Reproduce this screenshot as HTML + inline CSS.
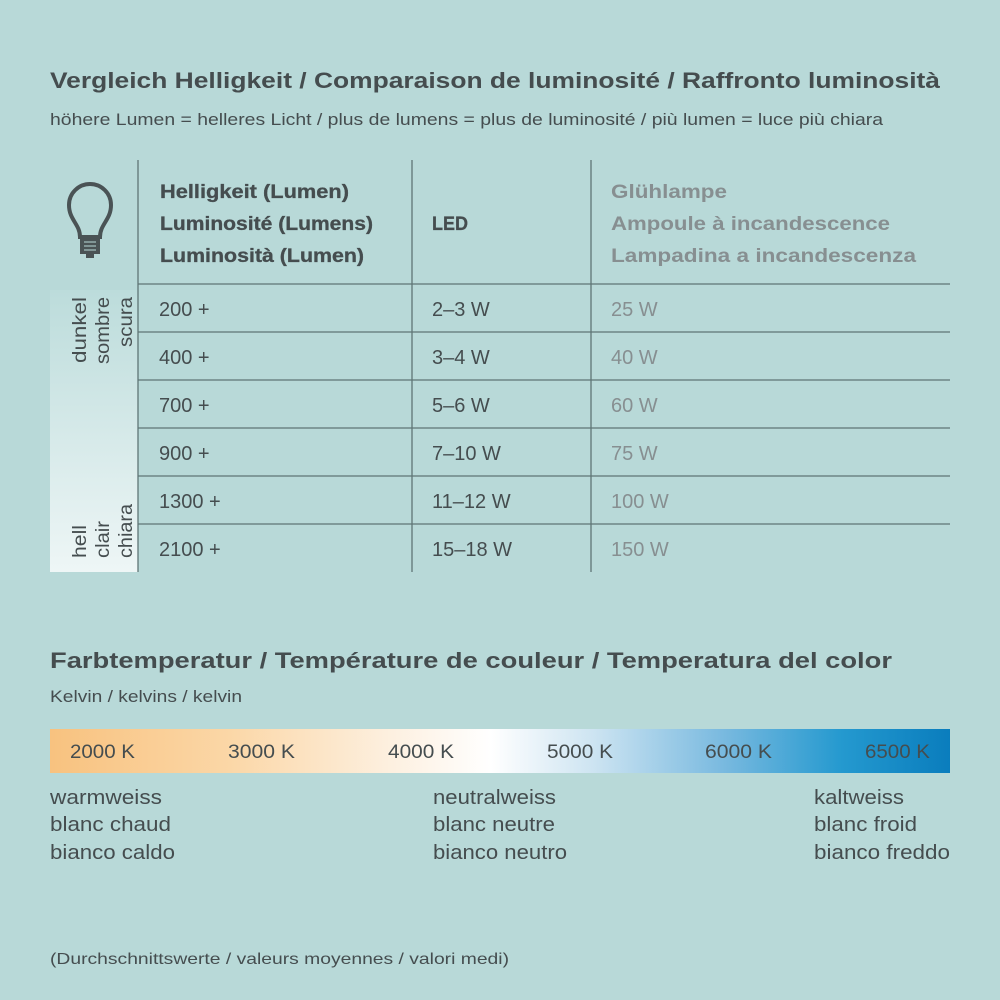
<!DOCTYPE html>
<html><head><meta charset="utf-8"><style>
html,body{margin:0;padding:0;background:#b8d9d8;}
svg{display:block}
text{font-family:"Liberation Sans",sans-serif;fill:#454d4f}
.b{font-weight:bold}
.g{fill:#878f91}
</style></head><body>
<svg width="1000" height="1000" viewBox="0 0 1000 1000" xmlns="http://www.w3.org/2000/svg">
<defs>
<linearGradient id="side" x1="0" y1="0" x2="0" y2="1">
<stop offset="0" stop-color="#bcdcdb"/><stop offset="1" stop-color="#eef6f6"/>
</linearGradient>
<linearGradient id="kel" x1="0" y1="0" x2="1" y2="0">
<stop offset="0" stop-color="#f8c27f"/>
<stop offset="0.2" stop-color="#fbd7a7"/>
<stop offset="0.38" stop-color="#fdf0e0"/>
<stop offset="0.49" stop-color="#ffffff"/>
<stop offset="0.6" stop-color="#cfe5f2"/>
<stop offset="0.75" stop-color="#78b9df"/>
<stop offset="0.88" stop-color="#2499cf"/>
<stop offset="1" stop-color="#0a7dbd"/>
</linearGradient>
</defs>
<rect width="1000" height="1000" fill="#b8d9d8"/>
<text x="50" y="88" font-size="22" class="b" textLength="890" lengthAdjust="spacingAndGlyphs">Vergleich Helligkeit / Comparaison de luminosité / Raffronto luminosità</text>
<text x="50" y="125" font-size="17" textLength="833" lengthAdjust="spacingAndGlyphs">höhere Lumen = helleres Licht / plus de lumens = plus de luminosité / più lumen = luce più chiara</text>

<rect x="50" y="290" width="88" height="282" fill="url(#side)"/>
<g stroke="#5f7576" stroke-width="1.3">
<line x1="138" y1="160" x2="138" y2="572"/>
<line x1="412" y1="160" x2="412" y2="572"/>
<line x1="591" y1="160" x2="591" y2="572"/>
<line x1="138" y1="284" x2="950" y2="284"/>
<line x1="138" y1="332" x2="950" y2="332"/>
<line x1="138" y1="380" x2="950" y2="380"/>
<line x1="138" y1="428" x2="950" y2="428"/>
<line x1="138" y1="476" x2="950" y2="476"/>
<line x1="138" y1="524" x2="950" y2="524"/>
</g>
<!-- bulb -->
<path d="M80 237 C80 224 69 220 69 205 A21 21 0 1 1 111 205 C111 220 100 224 100 237 Z" fill="none" stroke="#4a5355" stroke-width="4"/>
<rect x="80" y="237" width="20" height="17" fill="#4a5355"/>
<rect x="86" y="253" width="8" height="5" fill="#4a5355"/>
<g stroke="#b8d9d8" stroke-width="1"><line x1="84" y1="242" x2="96" y2="242"/><line x1="84" y1="246" x2="96" y2="246"/><line x1="84" y1="250" x2="96" y2="250"/></g>

<g class="b" style="stroke:#454d4f;stroke-width:0.3">
<text x="160" y="198" font-size="19" class="b" textLength="189" lengthAdjust="spacingAndGlyphs">Helligkeit (Lumen)</text>
<text x="160" y="230" font-size="19" class="b" textLength="213" lengthAdjust="spacingAndGlyphs">Luminosité (Lumens)</text>
<text x="160" y="262" font-size="19" class="b" textLength="204" lengthAdjust="spacingAndGlyphs">Luminosità (Lumen)</text>
<text x="432" y="230" font-size="19" class="b" textLength="36" lengthAdjust="spacingAndGlyphs">LED</text>
</g>
<text x="611" y="198" font-size="19" class="b g" textLength="116" lengthAdjust="spacingAndGlyphs">Glühlampe</text>
<text x="611" y="230" font-size="19" class="b g" textLength="279" lengthAdjust="spacingAndGlyphs">Ampoule à incandescence</text>
<text x="611" y="262" font-size="19" class="b g" textLength="305" lengthAdjust="spacingAndGlyphs">Lampadina a incandescenza</text>

<g font-size="20">
<text x="159" y="316">200 +</text><text x="432" y="316">2–3 W</text><text x="611" y="316" class="g">25 W</text>
<text x="159" y="364">400 +</text><text x="432" y="364">3–4 W</text><text x="611" y="364" class="g">40 W</text>
<text x="159" y="412">700 +</text><text x="432" y="412">5–6 W</text><text x="611" y="412" class="g">60 W</text>
<text x="159" y="460">900 +</text><text x="432" y="460">7–10 W</text><text x="611" y="460" class="g">75 W</text>
<text x="159" y="508">1300 +</text><text x="432" y="508">11–12 W</text><text x="611" y="508" class="g">100 W</text>
<text x="159" y="556">2100 +</text><text x="432" y="556">15–18 W</text><text x="611" y="556" class="g">150 W</text>
</g>

<g font-size="19" text-anchor="end">
<text transform="translate(86,297) rotate(-90)" textLength="66" lengthAdjust="spacingAndGlyphs">dunkel</text>
<text transform="translate(109,297) rotate(-90)" textLength="67" lengthAdjust="spacingAndGlyphs">sombre</text>
<text transform="translate(132,297) rotate(-90)" textLength="50" lengthAdjust="spacingAndGlyphs">scura</text>
</g>
<g font-size="19">
<text transform="translate(86,558) rotate(-90)" textLength="33" lengthAdjust="spacingAndGlyphs">hell</text>
<text transform="translate(109,558) rotate(-90)" textLength="37" lengthAdjust="spacingAndGlyphs">clair</text>
<text transform="translate(132,558) rotate(-90)" textLength="54" lengthAdjust="spacingAndGlyphs">chiara</text>
</g>

<text x="50" y="668" font-size="22" class="b" textLength="842" lengthAdjust="spacingAndGlyphs">Farbtemperatur / Température de couleur / Temperatura del color</text>
<text x="50" y="702" font-size="17" textLength="192" lengthAdjust="spacingAndGlyphs">Kelvin / kelvins / kelvin</text>

<rect x="50" y="729" width="900" height="44" fill="url(#kel)"/>
<g font-size="19">
<text x="70" y="758" textLength="65" lengthAdjust="spacingAndGlyphs">2000 K</text>
<text x="228" y="758" textLength="67" lengthAdjust="spacingAndGlyphs">3000 K</text>
<text x="388" y="758" textLength="66" lengthAdjust="spacingAndGlyphs">4000 K</text>
<text x="547" y="758" textLength="66" lengthAdjust="spacingAndGlyphs">5000 K</text>
<text x="705" y="758" textLength="67" lengthAdjust="spacingAndGlyphs">6000 K</text>
<text x="865" y="758" textLength="65" lengthAdjust="spacingAndGlyphs">6500 K</text>
</g>

<g font-size="20">
<text x="50" y="804" textLength="112" lengthAdjust="spacingAndGlyphs">warmweiss</text>
<text x="50" y="831" textLength="121" lengthAdjust="spacingAndGlyphs">blanc chaud</text>
<text x="50" y="859" textLength="125" lengthAdjust="spacingAndGlyphs">bianco caldo</text>
<text x="433" y="804" textLength="123" lengthAdjust="spacingAndGlyphs">neutralweiss</text>
<text x="433" y="831" textLength="122" lengthAdjust="spacingAndGlyphs">blanc neutre</text>
<text x="433" y="859" textLength="134" lengthAdjust="spacingAndGlyphs">bianco neutro</text>
<text x="814" y="804" textLength="90" lengthAdjust="spacingAndGlyphs">kaltweiss</text>
<text x="814" y="831" textLength="103" lengthAdjust="spacingAndGlyphs">blanc froid</text>
<text x="814" y="859" textLength="136" lengthAdjust="spacingAndGlyphs">bianco freddo</text>
</g>

<text x="50" y="964" font-size="16" textLength="459" lengthAdjust="spacingAndGlyphs">(Durchschnittswerte / valeurs moyennes / valori medi)</text>
</svg>
</body></html>
